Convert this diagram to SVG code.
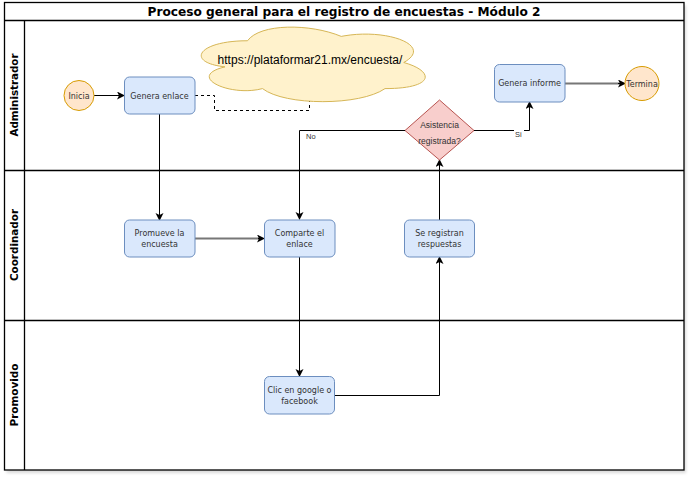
<svg xmlns="http://www.w3.org/2000/svg" width="691" height="478" viewBox="0 0 691 478">
<style>
.frame{fill:none;stroke:#000;stroke-width:1.3}
.task{fill:#dae8fc;stroke:#6c8ebf;stroke-width:1}
.ev{fill:#ffe6cc;stroke:#d79b00;stroke-width:1}
.dec{fill:#f8cecc;stroke:#b85450;stroke-width:1}
.cloud{fill:#fff2cc;stroke:#d6b656;stroke-width:1}
.t{font-family:"DejaVu Sans",Verdana,sans-serif;font-size:8px;fill:#333;text-anchor:middle}
.lane{font-family:"DejaVu Sans","Liberation Sans",sans-serif;font-size:11px;font-weight:bold;fill:#000;text-anchor:middle}
.title{font-family:"DejaVu Sans Condensed","DejaVu Sans",sans-serif;font-size:12.5px;font-weight:bold;fill:#000;text-anchor:middle}
.c{fill:none;stroke:#000;stroke-width:1}
.g{fill:none;stroke:#777;stroke-width:2}
.lbl{font-family:"Liberation Sans",Arial,sans-serif;font-size:7.5px;fill:#333}
.dl{font-family:"Liberation Sans",Arial,sans-serif;font-size:8.5px;fill:#333;text-anchor:middle}
</style>
<defs>
<marker id="arr" markerWidth="10" markerHeight="10" refX="7" refY="4" orient="auto" markerUnits="userSpaceOnUse">
<path d="M0,0 L8,4 L0,8 L2,4 z" fill="#000"/>
</marker>
<filter id="sh" x="-5%" y="-5%" width="110%" height="110%">
<feDropShadow dx="2" dy="3" stdDeviation="1.5" flood-color="#000" flood-opacity="0.15"/>
</filter>
</defs>
<rect width="691" height="478" fill="#fff"/>
<g id="pool">
<rect x="4.5" y="2.5" width="679.5" height="467.5" fill="#fff" filter="url(#sh)"/>
<rect class="frame" x="4.5" y="2.5" width="679.5" height="467.5"/>
<line class="frame" x1="4.5" y1="20.5" x2="684" y2="20.5"/>
<line class="frame" x1="4.5" y1="170.5" x2="684" y2="170.5"/>
<line class="frame" x1="4.5" y1="320.5" x2="684" y2="320.5"/>
<line class="frame" x1="24.5" y1="20.5" x2="24.5" y2="470"/>
<text class="title" x="344" y="16" textLength="393" lengthAdjust="spacingAndGlyphs">Proceso general para el registro de encuestas - Módulo 2</text>
<text class="lane" transform="translate(18,95) rotate(-90)" textLength="83" lengthAdjust="spacingAndGlyphs">Administrador</text>
<text class="lane" transform="translate(18,245) rotate(-90)" textLength="72" lengthAdjust="spacingAndGlyphs">Coordinador</text>
<text class="lane" transform="translate(18,395) rotate(-90)" textLength="63" lengthAdjust="spacingAndGlyphs">Promovido</text>
</g>
<g id="connectors">
<line class="c" x1="94" y1="95.5" x2="124" y2="95.5" marker-end="url(#arr)"/>
<polyline class="c" points="195,95.5 214.5,95.5 214.5,110.5 309.5,110.5 309.5,100" stroke-dasharray="3,3"/>
<line class="c" x1="159.5" y1="114" x2="159.5" y2="220" marker-end="url(#arr)"/>
<line class="g" x1="195" y1="238.5" x2="260" y2="238.5"/>
<line class="c" x1="258" y1="238.5" x2="264" y2="238.5" marker-end="url(#arr)"/>
<line class="c" x1="299.5" y1="257" x2="299.5" y2="376" marker-end="url(#arr)"/>
<polyline class="c" points="334,395.5 439.5,395.5 439.5,257" marker-end="url(#arr)"/>
<line class="c" x1="439.5" y1="220" x2="439.5" y2="160" marker-end="url(#arr)"/>
<polyline class="c" points="405,130.5 299.5,130.5 299.5,219" marker-end="url(#arr)"/>
<polyline class="c" points="474,130.5 529.5,130.5 529.5,102" marker-end="url(#arr)"/>
<line class="g" x1="565" y1="83.5" x2="620" y2="83.5"/>
<line class="c" x1="618" y1="83.5" x2="625" y2="83.5" marker-end="url(#arr)"/>
<rect x="304" y="131" width="14" height="9" fill="#fff"/>
<text class="lbl" x="306" y="139">No</text>
<rect x="514" y="128" width="10" height="9" fill="#fff"/>
<text class="lbl" x="515" y="136.5">Si</text>
</g>
<g id="inicia">
<circle class="ev" cx="79" cy="95.5" r="15"/>
<text class="t" x="79" y="98.5">Inicia</text>
</g>
<g id="genera-enlace">
<rect class="task" x="124.5" y="77" width="70.5" height="37" rx="5"/>
<text class="t" x="159.5" y="98.5">Genera enlace</text>
</g>
<g id="cloud">
<path class="cloud" d="M247.5,40.75 C197.5,40.75 185,62.5 225,66.85 C185,76.4 230,97.3 262.5,88.6 C285,106 360,106 385,88.6 C435,88.6 435,71.2 403.75,62.5 C435,45.1 385,27.7 341.25,36.4 C310,23.35 260,23.35 247.5,40.75 Z"/>
<text x="310" y="64" font-family="Liberation Sans, Arial, sans-serif" font-size="12" fill="#000" text-anchor="middle">https://plataformar21.mx/encuesta/</text>
</g>
<g id="genera-informe">
<rect class="task" x="494.5" y="64.5" width="70.5" height="37.5" rx="5"/>
<text class="t" x="529.5" y="86">Genera informe</text>
</g>
<g id="termina">
<circle class="ev" cx="642" cy="83.5" r="17"/>
<text class="t" x="642" y="86.5">Termina</text>
</g>
<g id="asistencia">
<polygon class="dec" points="439.5,100 474,130.5 439.5,160 405,130.5"/>
<text class="dl" x="439.5" y="128">Asistencia</text>
<text class="dl" x="439.5" y="143.5">registrada?</text>
</g>
<g id="promueve">
<rect class="task" x="124.5" y="220" width="70.5" height="37" rx="5"/>
<text class="t" x="159.5" y="236">Promueve la</text>
<text class="t" x="159.5" y="247">encuesta</text>
</g>
<g id="comparte">
<rect class="task" x="264.5" y="220" width="70.5" height="37" rx="5"/>
<text class="t" x="299.5" y="236">Comparte el</text>
<text class="t" x="299.5" y="247">enlace</text>
</g>
<g id="se-registran">
<rect class="task" x="404.5" y="220" width="70" height="37" rx="5"/>
<text class="t" x="439.5" y="236">Se registran</text>
<text class="t" x="439.5" y="247">respuestas</text>
</g>
<g id="clic">
<rect class="task" x="264.5" y="376.5" width="70" height="37.5" rx="5"/>
<text class="t" x="299.5" y="392.5">Clic en google o</text>
<text class="t" x="299.5" y="403.5">facebook</text>
</g>
</svg>
